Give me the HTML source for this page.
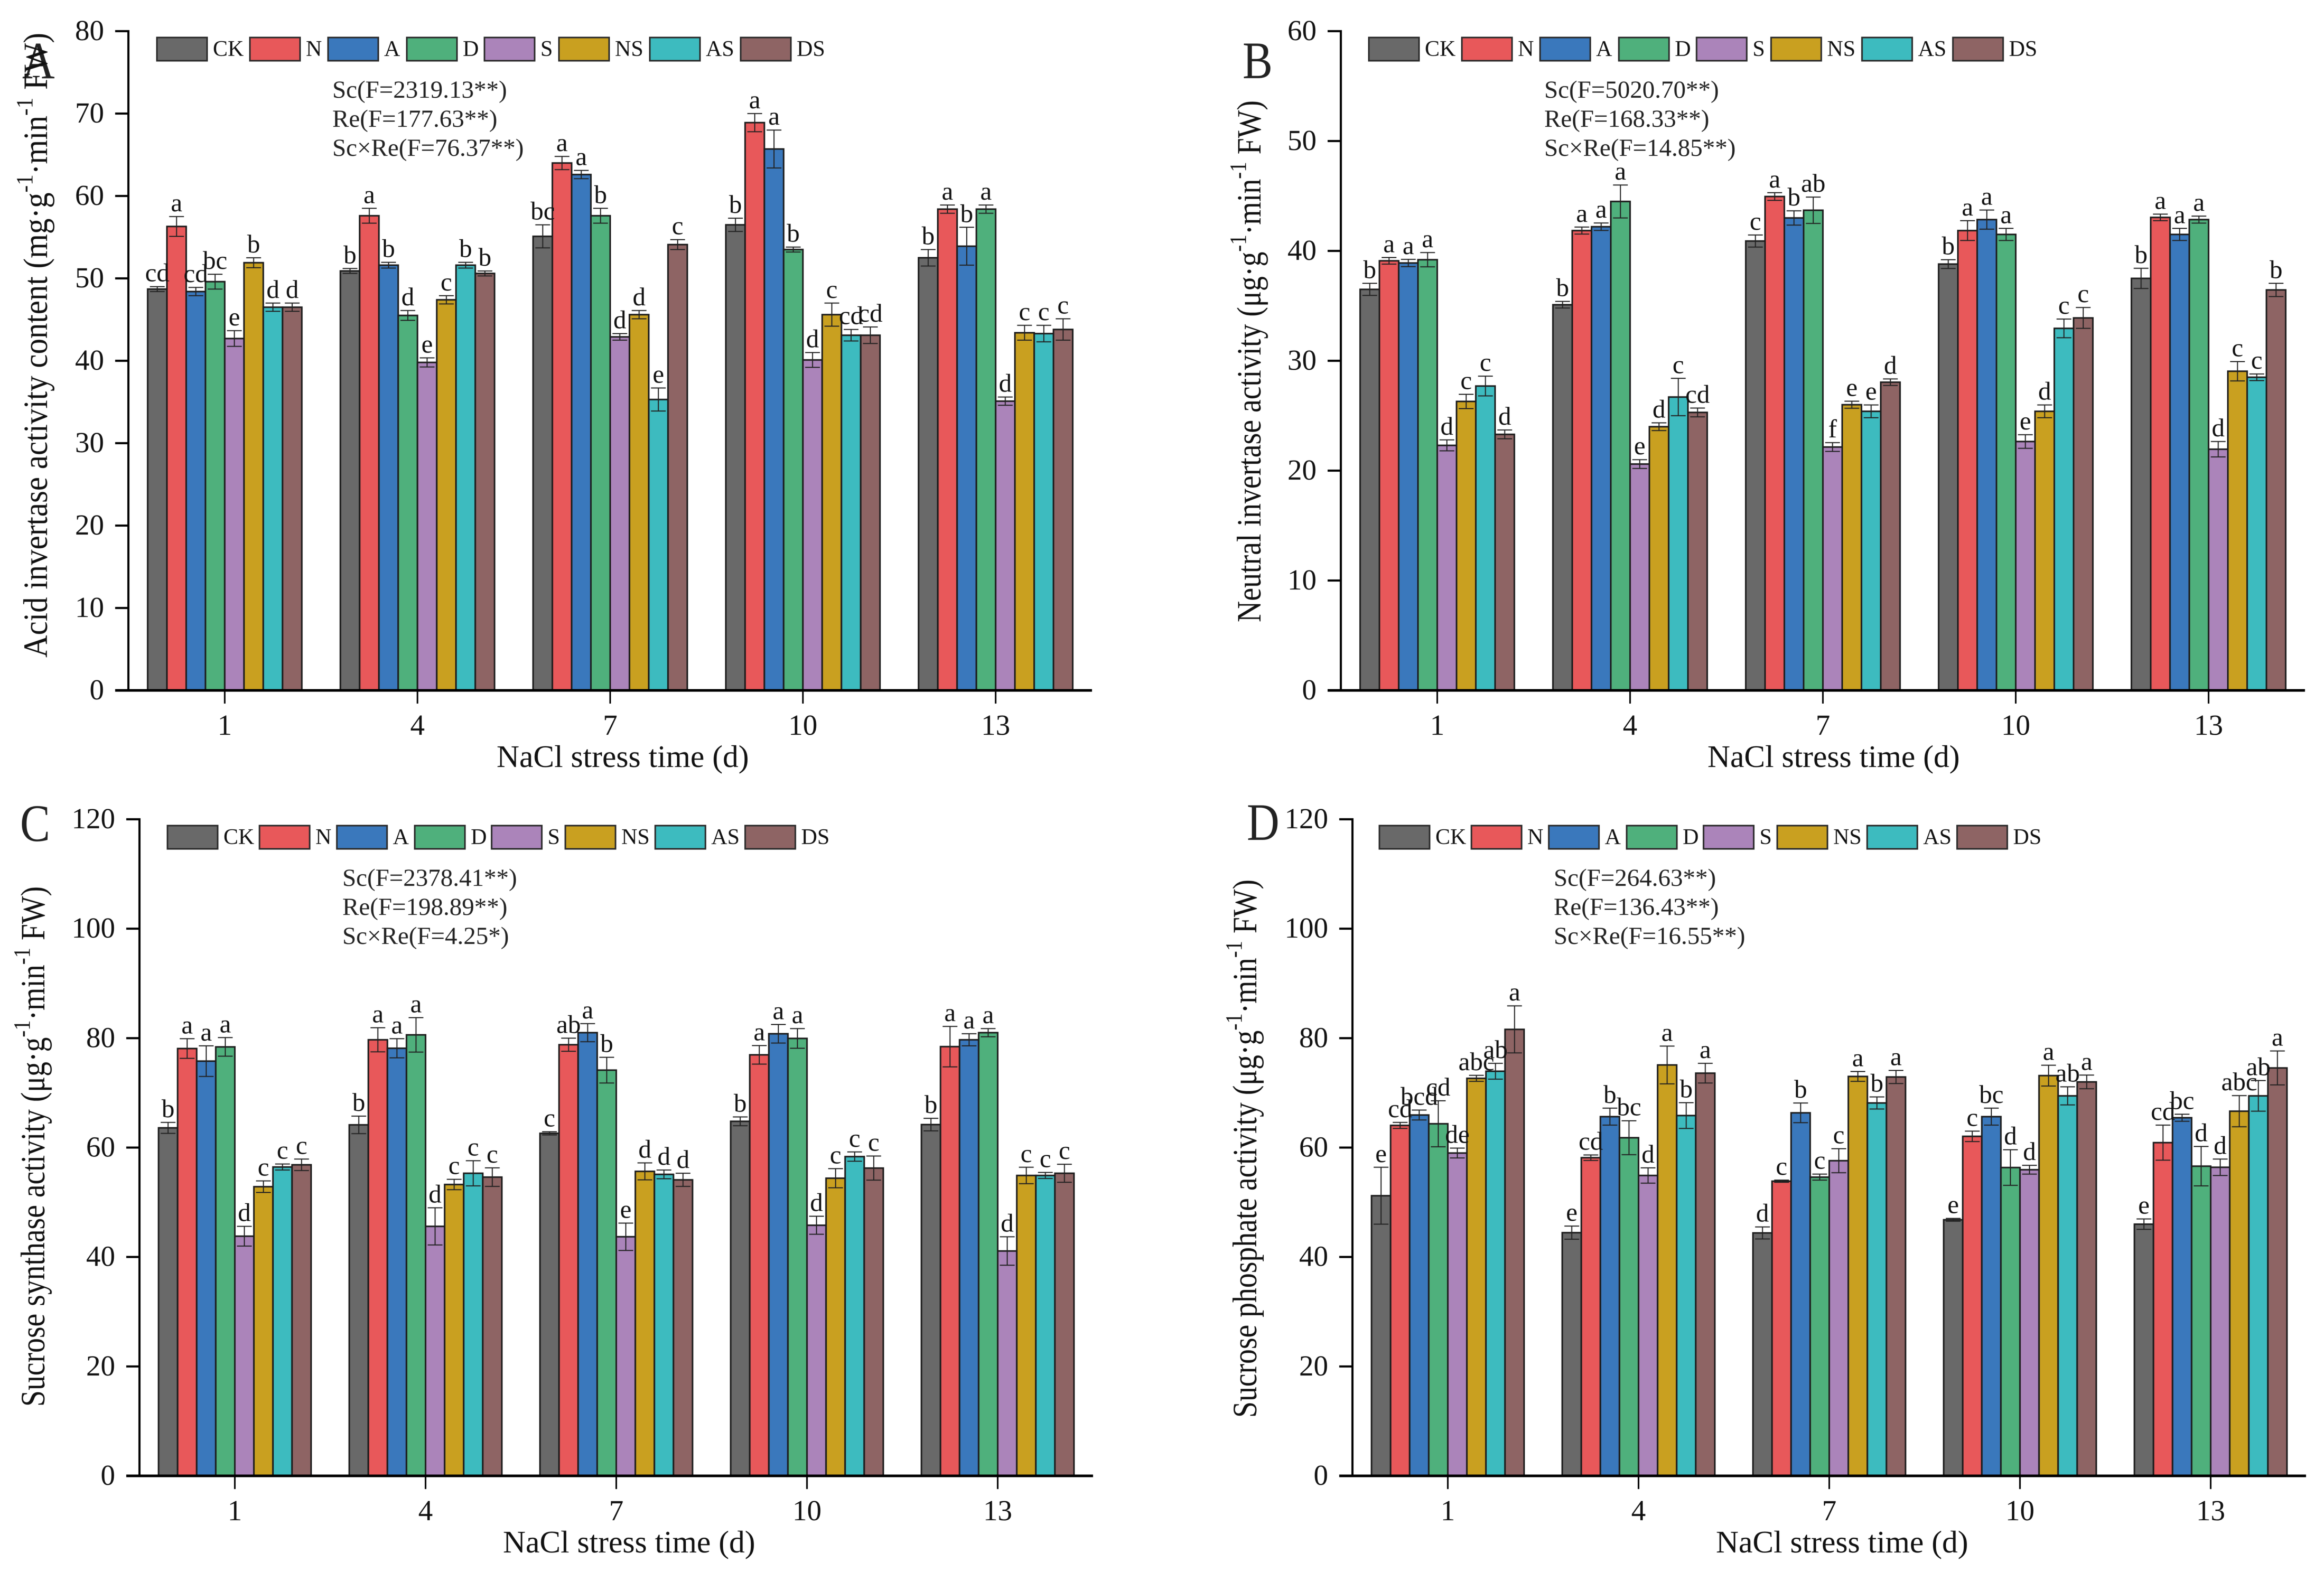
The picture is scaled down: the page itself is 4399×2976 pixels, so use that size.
<!DOCTYPE html>
<html lang="en">
<head>
<meta charset="utf-8">
<title>Enzyme activity under NaCl stress</title>
<style>
html,body{margin:0;padding:0;background:#fff;}
svg{display:block;font-family:"Liberation Serif","Times New Roman",serif;fill:#111;filter:blur(0.7px);}
.stat{font-size:47px;fill:#222;}
.title{font-size:97px;fill:#222;}
.xlab{font-size:59.5px;fill:#111;}
.ylab{font-size:46px;fill:#111;}
</style>
</head>
<body>
<svg id="chart" xmlns="http://www.w3.org/2000/svg" width="4399" height="2976" viewBox="0 0 4399 2976">
<rect x="0" y="0" width="4399" height="2976" fill="#fff"/>

<g id="panel-a">
<text class="title" transform="translate(42,148) scale(0.88,1.03)">A</text>
<text class="ylab" transform="translate(89,1245) rotate(-90) scale(1,1.4)" textLength="1183" lengthAdjust="spacingAndGlyphs">Acid invertase activity content (mg·g<tspan dy="-20" font-size="32">-1</tspan><tspan dy="20">·min</tspan><tspan dy="-20" font-size="32">-1</tspan><tspan dy="20"> FW)</tspan></text>
<text class="xlab" x="940" y="1452">NaCl stress time (d)</text>
<text class="stat" x="629" y="185">Sc(F=2319.13**)</text>
<text class="stat" x="629" y="240">Re(F=177.63**)</text>
<text class="stat" x="629" y="295">Sc×Re(F=76.37**)</text>
</g>

<g id="panel-b">
<text class="title" transform="translate(2352,148) scale(0.88,1.03)">B</text>
<text class="ylab" transform="translate(2386,1178) rotate(-90) scale(1,1.4)" textLength="988" lengthAdjust="spacingAndGlyphs">Neutral invertase activity (μg·g<tspan dy="-20" font-size="32">-1</tspan><tspan dy="20">·min</tspan><tspan dy="-20" font-size="32">-1</tspan><tspan dy="20"> FW)</tspan></text>
<text class="xlab" x="3232" y="1452">NaCl stress time (d)</text>
<text class="stat" x="2923" y="185">Sc(F=5020.70**)</text>
<text class="stat" x="2923" y="240">Re(F=168.33**)</text>
<text class="stat" x="2923" y="295">Sc×Re(F=14.85**)</text>
</g>

<g id="panel-c">
<text class="title" transform="translate(38,1592) scale(0.88,1.03)">C</text>
<text class="ylab" transform="translate(84,2663) rotate(-90) scale(1,1.4)" textLength="985" lengthAdjust="spacingAndGlyphs">Sucrose synthase activity (μg·g<tspan dy="-20" font-size="32">-1</tspan><tspan dy="20">·min</tspan><tspan dy="-20" font-size="32">-1</tspan><tspan dy="20"> FW)</tspan></text>
<text class="xlab" x="952" y="2939">NaCl stress time (d)</text>
<text class="stat" x="648" y="1677">Sc(F=2378.41**)</text>
<text class="stat" x="648" y="1732">Re(F=198.89**)</text>
<text class="stat" x="648" y="1787">Sc×Re(F=4.25*)</text>
</g>

<g id="panel-d">
<text class="title" transform="translate(2360,1590) scale(0.88,1.03)">D</text>
<text class="ylab" transform="translate(2378,2684) rotate(-90) scale(1,1.4)" textLength="1019" lengthAdjust="spacingAndGlyphs">Sucrose phosphate activity (μg·g<tspan dy="-20" font-size="32">-1</tspan><tspan dy="20">·min</tspan><tspan dy="-20" font-size="32">-1</tspan><tspan dy="20"> FW)</tspan></text>
<text class="xlab" x="3248" y="2939">NaCl stress time (d)</text>
<text class="stat" x="2941" y="1677">Sc(F=264.63**)</text>
<text class="stat" x="2941" y="1732">Re(F=136.43**)</text>
<text class="stat" x="2941" y="1787">Sc×Re(F=16.55**)</text>
</g>
</svg>

<script>
const categories = ['1', '4', '7', '10', '13'];
const seriesNames = ['CK', 'N', 'A', 'D', 'S', 'NS', 'AS', 'DS'];

const ticksA = [0, 10, 20, 30, 40, 50, 60, 70, 80];
const ticksB = [0, 10, 20, 30, 40, 50, 60];
const ticksC = [0, 20, 40, 60, 80, 100, 120];
const ticksD = [0, 20, 40, 60, 80, 100, 120];

const valuesA = [
  [48.7, 56.3, 48.4, 49.6, 42.7, 51.9, 46.5, 46.5],
  [50.9, 57.6, 51.6, 45.5, 39.8, 47.4, 51.6, 50.6],
  [55.1, 64.0, 62.6, 57.6, 42.9, 45.6, 35.3, 54.1],
  [56.5, 68.9, 65.7, 53.5, 40.1, 45.6, 43.1, 43.1],
  [52.5, 58.4, 53.9, 58.4, 35.1, 43.4, 43.3, 43.8]
];
const errorsA = [
  [0.3, 1.2, 0.5, 0.9, 0.95, 0.6, 0.5, 0.5],
  [0.3, 0.9, 0.35, 0.6, 0.55, 0.5, 0.35, 0.3],
  [1.4, 0.8, 0.5, 0.9, 0.4, 0.5, 1.4, 0.6],
  [0.8, 1.1, 2.3, 0.3, 0.9, 1.4, 0.7, 1.0],
  [1.0, 0.5, 2.3, 0.5, 0.5, 0.9, 1.0, 1.3]
];
const lettersA = [
  ['cd', 'a', 'cd', 'bc', 'e', 'b', 'd', 'd'],
  ['b', 'a', 'b', 'd', 'e', 'c', 'b', 'b'],
  ['bc', 'a', 'a', 'b', 'd', 'd', 'e', 'c'],
  ['b', 'a', 'a', 'b', 'd', 'c', 'cd', 'cd'],
  ['b', 'a', 'b', 'a', 'd', 'c', 'c', 'c']
];

const valuesB = [
  [36.5, 39.1, 38.9, 39.2, 22.3, 26.3, 27.7, 23.3],
  [35.1, 41.85, 42.2, 44.5, 20.6, 24.0, 26.7, 25.3],
  [40.9, 44.95, 43.0, 43.7, 22.15, 26.0, 25.4, 28.05],
  [38.8, 41.85, 42.85, 41.5, 22.65, 25.4, 32.95, 33.9],
  [37.5, 43.05, 41.5, 42.85, 21.95, 29.05, 28.5, 36.45]
];
const errorsB = [
  [0.55, 0.3, 0.33, 0.65, 0.5, 0.65, 0.9, 0.4],
  [0.3, 0.32, 0.34, 1.5, 0.4, 0.35, 1.7, 0.4],
  [0.55, 0.35, 0.65, 1.2, 0.4, 0.32, 0.58, 0.3],
  [0.4, 0.9, 0.87, 0.55, 0.62, 0.58, 0.85, 0.95],
  [0.92, 0.3, 0.55, 0.32, 0.7, 0.88, 0.3, 0.6]
];
const lettersB = [
  ['b', 'a', 'a', 'a', 'd', 'c', 'c', 'd'],
  ['b', 'a', 'a', 'a', 'e', 'd', 'c', 'cd'],
  ['c', 'a', 'b', 'ab', 'f', 'e', 'e', 'd'],
  ['b', 'a', 'a', 'a', 'e', 'd', 'c', 'c'],
  ['b', 'a', 'a', 'a', 'd', 'c', 'c', 'b']
];

const valuesC = [
  [63.6, 78.1, 75.8, 78.4, 43.8, 52.85, 56.45, 56.85],
  [64.15, 79.7, 78.15, 80.6, 45.6, 53.25, 55.3, 54.6],
  [62.6, 78.8, 81.0, 74.15, 43.7, 55.65, 55.1, 54.1],
  [64.8, 76.95, 80.8, 79.95, 45.8, 54.4, 58.35, 56.25],
  [64.2, 78.45, 79.7, 81.0, 41.1, 54.9, 54.9, 55.3]
];
const errorsC = [
  [1.0, 1.8, 2.8, 1.7, 1.8, 1.05, 0.55, 1.05],
  [1.6, 2.2, 1.75, 3.15, 3.4, 0.95, 2.3, 1.7],
  [0.3, 1.2, 1.65, 2.35, 2.5, 1.55, 0.8, 1.2],
  [0.8, 1.7, 1.7, 1.8, 1.65, 1.75, 0.85, 2.2],
  [1.15, 3.7, 1.1, 0.75, 2.6, 1.5, 0.55, 1.65]
];
const lettersC = [
  ['b', 'a', 'a', 'a', 'd', 'c', 'c', 'c'],
  ['b', 'a', 'a', 'a', 'd', 'c', 'c', 'c'],
  ['c', 'ab', 'a', 'b', 'e', 'd', 'd', 'd'],
  ['b', 'a', 'a', 'a', 'd', 'c', 'c', 'c'],
  ['b', 'a', 'a', 'a', 'd', 'c', 'c', 'c']
];

const valuesD = [
  [51.2, 64.05, 65.95, 64.35, 59.0, 72.65, 73.95, 81.6],
  [44.45, 58.15, 65.65, 61.8, 54.9, 75.1, 65.85, 73.6],
  [44.4, 53.85, 66.35, 54.6, 57.6, 73.0, 68.15, 72.9],
  [46.8, 62.05, 65.65, 56.35, 55.95, 73.15, 69.45, 72.0],
  [46.0, 60.9, 65.45, 56.6, 56.4, 66.65, 69.45, 74.55]
];
const errorsD = [
  [5.2, 0.55, 0.9, 4.2, 0.9, 0.55, 1.45, 4.3],
  [1.2, 0.5, 1.55, 3.1, 1.4, 3.45, 2.35, 1.8],
  [1.1, 0.2, 1.8, 0.55, 2.2, 0.9, 1.1, 1.2],
  [0.25, 0.95, 1.55, 3.25, 0.8, 1.9, 1.65, 1.25],
  [0.95, 3.2, 0.65, 3.6, 1.5, 2.85, 2.8, 3.1]
];
const lettersD = [
  ['e', 'cd', 'bcd', 'cd', 'de', 'abc', 'ab', 'a'],
  ['e', 'cd', 'b', 'bc', 'd', 'a', 'b', 'a'],
  ['d', 'c', 'b', 'c', 'c', 'a', 'b', 'a'],
  ['e', 'c', 'bc', 'd', 'd', 'a', 'ab', 'a'],
  ['e', 'cd', 'bc', 'd', 'd', 'abc', 'ab', 'a']
];

function drawPanel(id, suffix, axisX, topY, zeroY, groupStep, legendStart, ticks, values, errors, letters) {
  const NS = 'http://www.w3.org/2000/svg';
  const palette = ['#696969', '#E8585A', '#3A78BC', '#4FB07C', '#AB84BA', '#C9A020', '#3DBBBF', '#8E6464'];
  const legendBoxX = [0, 176, 324, 473, 620, 761, 933, 1105];
  const legendScale = groupStep / 364.8;
  const ink = '#1c1c1c';
  const root = document.getElementById(id);
  const maxValue = ticks[ticks.length - 1];
  const barWidth = groupStep / 10;
  const y = function (v) { return zeroY - (v / maxValue) * (zeroY - topY); };
  const tickX = function (g) { return axisX + groupStep * (g + 0.5); };
  const barX = function (g, s) { return tickX(g) + (s - 4) * barWidth; };
  const make = function (tag, parent) {
    const node = document.createElementNS(NS, tag);
    parent.appendChild(node);
    return node;
  };
  const line = function (node, x1, y1, x2, y2, width, color) {
    node.setAttribute('x1', x1);
    node.setAttribute('y1', y1);
    node.setAttribute('x2', x2);
    node.setAttribute('y2', y2);
    node.setAttribute('stroke', color);
    node.setAttribute('stroke-width', width);
  };

  values.forEach(function (group, g) {
    group.forEach(function (value, s) {
      const bar = make('rect', root);
      
      
      bar.setAttribute('x', barX(g, s));
      bar.setAttribute('y', y(value));
      bar.setAttribute('width', barWidth);
      bar.setAttribute('height', zeroY - y(value));
      bar.setAttribute('fill', palette[s]);
      bar.setAttribute('stroke', ink);
      bar.setAttribute('stroke-width', 3);
    });
  });

  values.forEach(function (group, g) {
    group.forEach(function (value, s) {
      const err = errors[g][s];
      const cx = barX(g, s) + barWidth / 2;
      const hi = y(value + err);
      const lo = y(value - err);
      const stem = make('line', root);
      
      
      line(stem, cx, hi, cx, lo, 2, '#222');
      const capTop = make('line', root);
      
      
      line(capTop, cx - 14, hi, cx + 14, hi, 2, '#222');
      const capBottom = make('line', root);
      
      
      line(capBottom, cx - 14, lo, cx + 14, lo, 2, '#222');
      const mark = make('text', root);
      
      
      mark.setAttribute('x', cx);
      mark.setAttribute('y', hi - 10);
      mark.setAttribute('text-anchor', 'middle');
      mark.setAttribute('font-size', 49);
      mark.textContent = letters[g][s];
    });
  });

  const yAxis = make('line', root);
  
  
  line(yAxis, axisX, topY - 2, axisX, zeroY, 4, '#000');
  const xAxis = make('line', root);
  
  
  line(xAxis, axisX - 25, zeroY, axisX + groupStep * categories.length, zeroY, 5, '#000');

  ticks.forEach(function (t) {
    const tick = make('line', root);
    
    
    line(tick, axisX - 25, y(t), axisX, y(t), 4, '#000');
    const label = make('text', root);
    
    
    label.setAttribute('x', axisX - 46);
    label.setAttribute('y', y(t) + 17);
    label.setAttribute('text-anchor', 'end');
    label.setAttribute('font-size', 55);
    label.textContent = t;
  });

  categories.forEach(function (c, g) {
    const tick = make('line', root);
    
    
    line(tick, tickX(g), zeroY, tickX(g), zeroY + 25, 3, '#000');
    const label = make('text', root);
    
    
    label.setAttribute('x', tickX(g));
    label.setAttribute('y', zeroY + 84);
    label.setAttribute('text-anchor', 'middle');
    label.setAttribute('font-size', 55);
    label.textContent = c;
  });

  seriesNames.forEach(function (name, s) {
    const boxLeft = axisX + legendStart + legendBoxX[s] * legendScale;
    const box = make('rect', root);
    
    
    box.setAttribute('x', boxLeft);
    box.setAttribute('y', topY + 12);
    box.setAttribute('width', 95);
    box.setAttribute('height', 44);
    box.setAttribute('fill', palette[s]);
    box.setAttribute('stroke', '#2a2a2a');
    box.setAttribute('stroke-width', 3);
    const label = make('text', root);
    
    
    label.setAttribute('x', boxLeft + 106);
    label.setAttribute('y', topY + 47);
    label.setAttribute('font-size', 42);
    label.textContent = name;
  });
}

drawPanel('panel-a', 'a', 243, 59, 1307, 364.8, 54, ticksA, valuesA, errorsA, lettersA);
drawPanel('panel-b', 'b', 2538, 59, 1307, 365, 53, ticksB, valuesB, errorsB, lettersB);
drawPanel('panel-c', 'c', 264, 1551, 2794, 361, 53, ticksC, valuesC, errorsC, lettersC);
drawPanel('panel-d', 'd', 2560, 1551, 2794, 361, 51, ticksD, valuesD, errorsD, lettersD);
</script>
</body>
</html>
